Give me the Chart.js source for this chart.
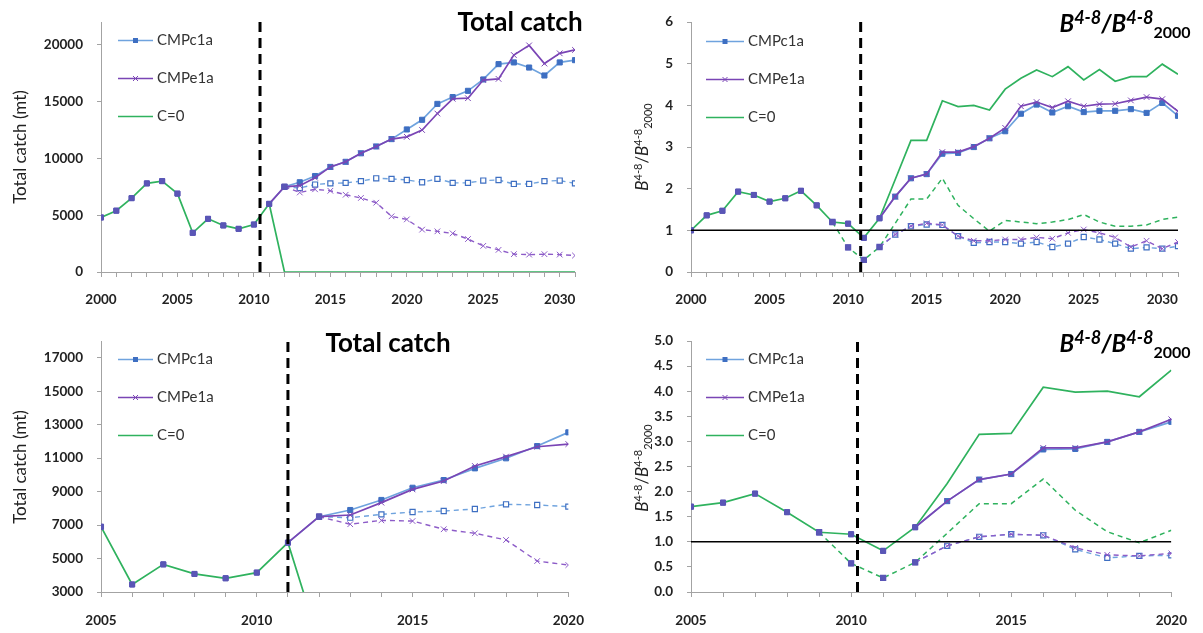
<!DOCTYPE html>
<html>
<head>
<meta charset="utf-8">
<script src="https://cdn.jsdelivr.net/npm/chart.js@4.4.1/dist/chart.umd.min.js"></script>
<style>
  body { margin: 0; background: #fff; font-family: Lato, sans-serif; }
  #page { position: relative; width: 1203px; height: 633px; overflow: hidden; }
  .panel { position: absolute; }
  .title { position: absolute; font-weight: bold; font-size: 26px; line-height: 30px; color: #000; white-space: nowrap; transform: translateX(-50%); }
  .btitle { position: absolute; font-weight: bold; font-size: 24px; line-height: 28px; color: #000; white-space: nowrap; transform: translateX(-50%); }
  .btitle i { font-style: italic; }
  .btitle .sup { font-size: 18px; font-style: italic; position: relative; top: -8px; }
  .btitle .sub { font-size: 16px; position: relative; top: 6px; }
  .ytitle { position: absolute; font-size: 17px; line-height: 20px; color: #222; white-space: nowrap; transform: translate(-50%, -50%) rotate(-90deg); }
  .ytitle .sup { font-size: 11px; position: relative; top: -6px; }
  .ytitle .sub { font-size: 11px; position: relative; top: 4px; }
</style>
</head>
<body>
<div id="page">
  <div class="panel" style="left:0;top:0"><canvas id="catchTop" width="600" height="316"></canvas></div>
  <div class="panel" style="left:600px;top:0"><canvas id="ratioTop" width="603" height="316"></canvas></div>
  <div class="panel" style="left:0;top:316px"><canvas id="catchBottom" width="600" height="317"></canvas></div>
  <div class="panel" style="left:600px;top:316px"><canvas id="ratioBottom" width="603" height="317"></canvas></div>

  <div class="title" style="left:520px;top:6px">Total catch</div>
  <div class="title" style="left:388px;top:327px">Total catch</div>
  <div class="btitle" style="left:1125px;top:9px"><i>B</i><span class="sup">4-8</span><i>/B</i><span class="sup">4-8</span><span class="sub">2000</span></div>
  <div class="btitle" style="left:1125px;top:329px"><i>B</i><span class="sup">4-8</span><i>/B</i><span class="sup">4-8</span><span class="sub">2000</span></div>

  <div class="ytitle" style="left:20px;top:147px">Total catch (mt)</div>
  <div class="ytitle" style="left:20px;top:467px">Total catch (mt)</div>
  <div class="ytitle" style="left:643px;top:147px"><i>B</i><span class="sup">4-8</span>/<i>B</i><span class="sup">4-8</span><span class="sub">2000</span></div>
  <div class="ytitle" style="left:643px;top:468px"><i>B</i><span class="sup">4-8</span>/<i>B</i><span class="sup">4-8</span><span class="sub">2000</span></div>
</div>

<script>
// x axis years
const yearsLong = [2000, 2001, 2002, 2003, 2004, 2005, 2006, 2007, 2008, 2009, 2010, 2011, 2012, 2013, 2014, 2015,
  2016, 2017, 2018, 2019, 2020, 2021, 2022, 2023, 2024, 2025, 2026, 2027, 2028, 2029, 2030, 2031];
const yearsShort = [2005, 2006, 2007, 2008, 2009, 2010, 2011, 2012, 2013, 2014, 2015, 2016, 2017, 2018, 2019, 2020];
const yearLabelsLong = [2000, 2005, 2010, 2015, 2020, 2025, 2030];
const yearLabelsShort = [2005, 2010, 2015, 2020];

// y axis tick values
const catchTicksLong = [0, 5000, 10000, 15000, 20000];
const catchTicksShort = [3000, 5000, 7000, 9000, 11000, 13000, 15000, 17000];
const ratioTicksLong = [0, 1, 2, 3, 4, 5, 6];
const ratioTicksShort = [0, 0.5, 1, 1.5, 2, 2.5, 3, 3.5, 4, 4.5, 5];

// year the management procedures start (dashed vertical line)
const catchStartLong = 2010.4;
const ratioStartLong = 2010.8;
const catchStartShort = 2011.0;
const ratioStartShort = 2010.2;

// total catch (mt), 2000-2031
const catchC1aLong = [4800, 5400, 6500, 7800, 8000, 6900, 3450, 4680, 4100, 3800, 4180, 6000, 7500, 7900, 8450, 9250,
  9700, 10450, 11050, 11700, 12550, 13400, 14800, 15400, 15950, 16950, 18300, 18450, 18000, 17300, 18450, 18650];
const catchE1aLong = [4800, 5400, 6500, 7800, 8000, 6900, 3450, 4680, 4100, 3800, 4180, 6000, 7500, 7600, 8300, 9250,
  9700, 10450, 11050, 11700, 11900, 12500, 13950, 15250, 15300, 16900, 17000, 19100, 19950, 18350, 19250, 19550];
const catchC1aLowLong = [null, null, null, null, null, null, null, null, null, null, null, null, 7500, 7400, 7700, 7800,
  7850, 8000, 8250, 8200, 8100, 7900, 8200, 7850, 7850, 8050, 8100, 7750, 7750, 8000, 8050, 7800];
const catchE1aLowLong = [null, null, null, null, null, null, null, null, null, null, null, null, 7500, 7000, 7280, 7150,
  6800, 6520, 6100, 4900, 4630, 3730, 3580, 3400, 2900, 2300, 1950, 1570, 1530, 1570, 1530, 1450];
const catchZeroLong = [4800, 5400, 6500, 7800, 8000, 6900, 3450, 4680, 4100, 3800, 4180, 6000, 0, 0, 0, 0,
  0, 0, 0, 0, 0, 0, 0, 0, 0, 0, 0, 0, 0, 0, 0, 0];

// total catch (mt), 2005-2020
const catchC1aShort = [6900, 3450, 4650, 4080, 3820, 4160, 5950, 7500, 7900, 8500, 9230, 9690, 10390, 10990, 11720, 12540];
const catchE1aShort = [6900, 3450, 4650, 4080, 3820, 4160, 5950, 7500, 7600, 8340, 9130, 9630, 10530, 11090, 11680, 11840];
const catchC1aLowShort = [null, null, null, null, null, null, null, 7500, 7440, 7640, 7780, 7840, 7960, 8240, 8200, 8100];
const catchE1aLowShort = [null, null, null, null, null, null, null, 7500, 7050, 7280, 7240, 6750, 6510, 6110, 4850, 4610];
const catchZeroShort = [6900, 3450, 4650, 4080, 3820, 4160, 5950, 0, 0, 0, 0, 0, 0, 0, 0, 0];

// B(4-8) relative to 2000, 2000-2031
const ratioC1aLong = [1.00, 1.36, 1.47, 1.93, 1.85, 1.69, 1.77, 1.95, 1.60, 1.20, 1.16, 0.82, 1.29, 1.81, 2.25, 2.35,
  2.84, 2.86, 3.00, 3.21, 3.38, 3.80, 4.02, 3.83, 3.98, 3.84, 3.87, 3.87, 3.91, 3.82, 4.06, 3.75];
const ratioE1aLong = [1.00, 1.36, 1.47, 1.93, 1.85, 1.69, 1.77, 1.95, 1.60, 1.20, 1.16, 0.82, 1.29, 1.81, 2.25, 2.35,
  2.88, 2.88, 3.01, 3.21, 3.46, 3.98, 4.08, 3.95, 4.10, 3.98, 4.03, 4.04, 4.12, 4.20, 4.15, 3.86];
const ratioZeroLong = [1.00, 1.36, 1.47, 1.93, 1.85, 1.69, 1.77, 1.95, 1.60, 1.20, 1.16, 0.82, 1.29, 2.22, 3.16, 3.16,
  4.11, 3.97, 4.00, 3.89, 4.39, 4.65, 4.85, 4.69, 4.93, 4.61, 4.86, 4.58, 4.69, 4.69, 4.99, 4.75];
const ratioC1aLowLong = [null, null, null, null, null, null, null, null, null, 1.20, 0.59, 0.29, 0.60, 0.90, 1.10, 1.14,
  1.13, 0.86, 0.70, 0.72, 0.72, 0.68, 0.72, 0.60, 0.68, 0.84, 0.78, 0.68, 0.56, 0.59, 0.56, 0.62];
const ratioE1aLowLong = [null, null, null, null, null, null, null, null, null, 1.20, 0.59, 0.29, 0.60, 0.90, 1.10, 1.17,
  1.13, 0.86, 0.75, 0.75, 0.78, 0.78, 0.83, 0.80, 0.94, 1.02, 0.94, 0.83, 0.60, 0.75, 0.56, 0.72];
const ratioZeroLowLong = [null, null, null, null, null, null, null, null, null, 1.20, 0.59, 0.29, 0.60, 1.17, 1.75, 1.75,
  2.25, 1.60, 1.28, 0.98, 1.24, 1.20, 1.16, 1.20, 1.26, 1.38, 1.20, 1.10, 1.10, 1.13, 1.26, 1.32];

// B(4-8) relative to 2000, 2005-2020
const ratioC1aShort = [1.70, 1.78, 1.96, 1.59, 1.19, 1.15, 0.82, 1.29, 1.81, 2.24, 2.35, 2.84, 2.85, 2.99, 3.19, 3.39];
const ratioE1aShort = [1.70, 1.78, 1.96, 1.59, 1.19, 1.15, 0.82, 1.29, 1.81, 2.24, 2.35, 2.87, 2.87, 2.99, 3.19, 3.44];
const ratioZeroShort = [1.70, 1.78, 1.96, 1.59, 1.19, 1.15, 0.82, 1.29, 2.16, 3.14, 3.16, 4.08, 3.98, 4.00, 3.89, 4.42];
const ratioC1aLowShort = [null, null, null, null, 1.19, 0.57, 0.28, 0.59, 0.92, 1.10, 1.15, 1.13, 0.85, 0.68, 0.72, 0.73];
const ratioE1aLowShort = [null, null, null, null, 1.19, 0.57, 0.28, 0.59, 0.92, 1.10, 1.15, 1.13, 0.88, 0.74, 0.72, 0.77];
const ratioZeroLowShort = [null, null, null, null, 1.19, 0.57, 0.28, 0.59, 1.17, 1.76, 1.76, 2.25, 1.63, 1.20, 0.98, 1.23];

const green = '#2fb25e';
const blueLine = '#6fa3de';
const blueMark = '#3e6fc2';
const purple = '#7a45b5';
const purpleDash = '#8d5cc8';
const histMark = '#5a56b6';
const axisGrey = '#a3a3a3';
const labelColor = '#222';
const tickFont = { family: 'Lato', size: 13.5, weight: 'bold' };

function pts(xs, ys) {
  return xs.map((x, i) => ({ x: x, y: ys[i] })).filter(p => p.y !== null);
}

// lines before histEnd are drawn by the C=0 series only
function hideHist(histEnd, color) {
  return { borderColor: c => (c.p1.parsed.x <= histEnd ? 'rgba(0,0,0,0)' : color) };
}
const isHist = c => c.parsed && c.parsed.x <= 2012;
const markStyle = after => c => (isHist(c) ? 'rect' : after);
const markColor = after => c => (isHist(c) ? histMark : after);

// legend drawn inside the plot area: line + marker + label
const insideLegend = {
  id: 'insideLegend',
  afterDraw(chart, args, opts) {
    const ctx = chart.ctx;
    const area = chart.chartArea;
    const items = chart.data.datasets.filter(d => d.legendRow !== undefined)
      .sort((a, b) => a.legendRow - b.legendRow);
    ctx.save();
    items.forEach(d => {
      const y = Math.round(area.top + opts.top + d.legendRow * opts.gap) + 0.5;
      const x0 = area.left + opts.left;
      const x1 = x0 + opts.len;
      const mx = (x0 + x1) / 2;
      ctx.setLineDash([]);
      ctx.strokeStyle = d.borderColor;
      ctx.lineWidth = 1.6;
      ctx.beginPath();
      ctx.moveTo(x0, y);
      ctx.lineTo(x1, y);
      ctx.stroke();
      if (d.legendMark === 'rect') {
        ctx.fillStyle = blueMark;
        ctx.fillRect(mx - 2.5, y - 2.5, 5, 5);
      } else if (d.legendMark === 'cross') {
        ctx.lineWidth = 1;
        ctx.beginPath();
        ctx.moveTo(mx - 2.5, y - 2.5); ctx.lineTo(mx + 2.5, y + 2.5);
        ctx.moveTo(mx + 2.5, y - 2.5); ctx.lineTo(mx - 2.5, y + 2.5);
        ctx.stroke();
      }
      ctx.fillStyle = '#333';
      ctx.font = '15px Lato';
      ctx.textBaseline = 'middle';
      ctx.fillText(d.label, x1 + 4, y);
    });
    ctx.restore();
  }
};

function drawPanel(id, o) {
  const xMin = o.years[0];
  const xMax = o.years[o.years.length - 1];
  const sets = [
    { // reference line at the start of projections
      data: [{ x: o.start, y: o.yMin }, { x: o.start, y: o.yMax }],
      borderColor: '#000', borderWidth: 3, borderDash: [10, 6], pointRadius: 0, order: 0
    },
    {
      label: 'CMPe1a', legendRow: 1, legendMark: 'cross',
      data: pts(o.years, o.e1a), borderColor: purple, borderWidth: 1.7,
      segment: hideHist(o.histEnd, purple),
      pointStyle: markStyle('crossRot'), pointRadius: c => (isHist(c) ? 3.4 : 4),
      pointBackgroundColor: markColor(purple), pointBorderColor: markColor(purple), pointBorderWidth: 1,
      order: 2
    },
    {
      label: 'CMPc1a', legendRow: 0, legendMark: 'rect',
      data: pts(o.years, o.c1a), borderColor: blueLine, borderWidth: 1.7,
      segment: hideHist(o.histEnd, blueLine),
      pointStyle: 'rect', pointRadius: 3.6,
      pointBackgroundColor: markColor(blueMark), pointBorderColor: markColor(blueMark), pointBorderWidth: 1,
      order: 3
    },
    {
      data: pts(o.years, o.e1aLow), borderColor: purpleDash, borderWidth: 1.4, borderDash: [5, 4],
      segment: hideHist(o.histEnd, purpleDash),
      pointStyle: markStyle('crossRot'), pointRadius: c => (isHist(c) ? 3.4 : 4),
      pointBackgroundColor: markColor(purpleDash), pointBorderColor: markColor(purpleDash), pointBorderWidth: 1,
      order: 4
    },
    {
      data: pts(o.years, o.c1aLow), borderColor: blueLine, borderWidth: 1.4, borderDash: [5, 4],
      segment: hideHist(o.histEnd, blueLine),
      pointStyle: 'rect', pointRadius: 3.6,
      pointBackgroundColor: markColor('#fff'), pointBorderColor: markColor(blueMark), pointBorderWidth: 1.2,
      order: 5
    },
    {
      label: 'C=0', legendRow: 2,
      data: pts(o.years, o.zero), borderColor: green, borderWidth: 1.7, pointRadius: 0, order: 7
    }
  ];
  if (o.zeroLow) {
    sets.push({
      data: pts(o.years, o.zeroLow), borderColor: green, borderWidth: 1.5, borderDash: [5, 4],
      pointRadius: 0, order: 6
    });
  }
  if (o.oneLine) {
    sets.push({
      data: [{ x: xMin, y: 1 }, { x: xMax, y: 1 }],
      borderColor: '#000', borderWidth: 1.5, pointRadius: 0, order: 1
    });
  }

  new Chart(document.getElementById(id), {
    type: 'line',
    data: { datasets: sets },
    options: {
      responsive: false,
      animation: false,
      elements: { line: { tension: 0 } },
      layout: { padding: { top: o.padTop, right: o.padRight, left: 0, bottom: 0 } },
      plugins: {
        legend: { display: false },
        tooltip: { enabled: false },
        insideLegend: o.legend
      },
      scales: {
        x: {
          type: 'linear', min: xMin, max: xMax,
          afterBuildTicks: s => { s.ticks = o.years.map(v => ({ value: v })); },
          afterFit: s => { s.height = o.xHeight; },
          ticks: {
            autoSkip: false, maxRotation: 0, padding: o.xPad, color: labelColor, font: tickFont,
            callback: v => (o.yearLabels.includes(v) ? String(v) : '')
          },
          grid: { drawOnChartArea: false, tickLength: 5, color: axisGrey },
          border: { color: axisGrey }
        },
        y: {
          min: o.yMin, max: o.yMax,
          afterBuildTicks: s => { s.ticks = o.yTicks.map(v => ({ value: v })); },
          afterFit: s => { s.width = o.yWidth; },
          ticks: { padding: 14, color: labelColor, font: tickFont, callback: o.fmt },
          grid: { drawOnChartArea: false, tickLength: 4, color: axisGrey },
          border: { color: axisGrey }
        }
      }
    },
    plugins: [insideLegend]
  });
}

drawPanel('catchTop', {
  years: yearsLong, yearLabels: yearLabelsLong, yTicks: catchTicksLong, yMin: 0, yMax: 22000,
  c1a: catchC1aLong, e1a: catchE1aLong, c1aLow: catchC1aLowLong, e1aLow: catchE1aLowLong, zero: catchZeroLong,
  start: catchStartLong, histEnd: 2011, fmt: v => String(v),
  padTop: 21, padRight: 25, yWidth: 101, xHeight: 44, xPad: 15,
  legend: { left: 17, top: 18, gap: 38, len: 35 }
});

drawPanel('ratioTop', {
  years: yearsLong, yearLabels: yearLabelsLong, yTicks: ratioTicksLong, yMin: 0, yMax: 6,
  c1a: ratioC1aLong, e1a: ratioE1aLong, c1aLow: ratioC1aLowLong, e1aLow: ratioE1aLowLong,
  zero: ratioZeroLong, zeroLow: ratioZeroLowLong, oneLine: true,
  start: ratioStartLong, histEnd: 2012, fmt: v => String(v),
  padTop: 20, padRight: 25, yWidth: 91, xHeight: 44, xPad: 15,
  legend: { left: 15, top: 19, gap: 38, len: 38 }
});

drawPanel('catchBottom', {
  years: yearsShort, yearLabels: yearLabelsShort, yTicks: catchTicksShort, yMin: 3000, yMax: 18000,
  c1a: catchC1aShort, e1a: catchE1aShort, c1aLow: catchC1aLowShort, e1aLow: catchE1aLowShort, zero: catchZeroShort,
  start: catchStartShort, histEnd: 2011, fmt: v => String(v),
  padTop: 25, padRight: 25, yWidth: 101, xHeight: 41, xPad: 16,
  legend: { left: 17, top: 18, gap: 38, len: 35 }
});

drawPanel('ratioBottom', {
  years: yearsShort, yearLabels: yearLabelsShort, yTicks: ratioTicksShort, yMin: 0, yMax: 5,
  c1a: ratioC1aShort, e1a: ratioE1aShort, c1aLow: ratioC1aLowShort, e1aLow: ratioE1aLowShort,
  zero: ratioZeroShort, zeroLow: ratioZeroLowShort, oneLine: true,
  start: ratioStartShort, histEnd: 2012, fmt: v => v.toFixed(1),
  padTop: 25, padRight: 25, yWidth: 91, xHeight: 41, xPad: 16,
  legend: { left: 15, top: 18, gap: 38, len: 38 }
});
</script>
</body>
</html>
